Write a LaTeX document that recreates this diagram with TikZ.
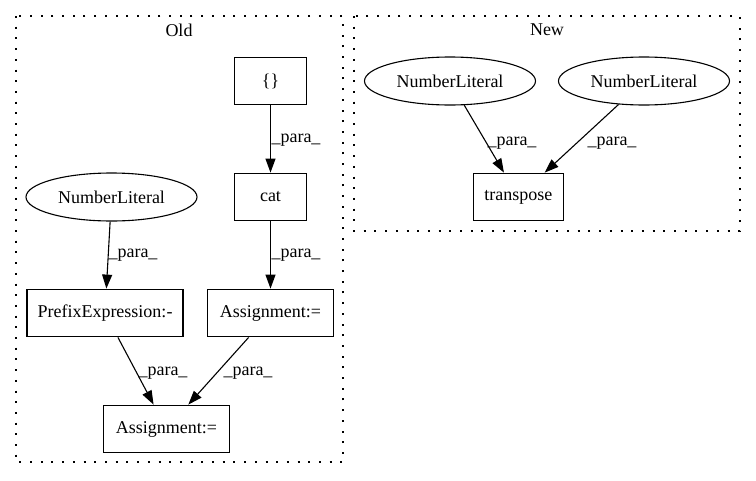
\documentclass[tikz,border=0pt]{standalone}
\usepackage{fontspec}
\setmainfont{Liberation Serif}
\usetikzlibrary{arrows.meta,shapes.geometric}
\begin{document}
\begin{tikzpicture}[x=1pt,y=-1pt,
  every node/.style={font=\fontsize{18}{21}\selectfont},
  box/.style={draw,line width=1.1pt,rectangle,inner sep=0pt,minimum height=47.7pt},
  oval/.style={draw,line width=1.1pt,ellipse,inner sep=0pt,minimum width=171pt,minimum height=48pt},
  cluster/.style={draw,line width=1.1pt,dash pattern=on 2pt off 8.7pt},
  edge/.style={line width=1.1pt,-{Triangle[length=14pt,width=10pt]}},
  lbl/.style={inner sep=0pt}]
\useasboundingbox (0,0) rectangle (756,480);
% clusters
\draw[cluster] (16,16) rectangle (343,462);
\draw[cluster] (354,16) rectangle (740,231);
\node (told) at (179,30) {Old};
\node (tnew) at (547,30) {New};
% Old nodes
\node[box,minimum width=72.4pt] (br) at (270.5,81) {\{\}};
\node[box,minimum width=72.4pt] (cat) at (270.5,197) {cat};
\node[oval] (nl1) at (111.5,197) {NumberLiteral};
\node[box,minimum width=156pt] (pre) at (105,313) {PrefixExpression:-};
\node[box,minimum width=125.6pt] (as1) at (270.5,313) {Assignment:=};
\node[box,minimum width=125.6pt] (as2) at (166.5,429) {Assignment:=};
% New nodes
\node[oval] (nl2) at (450,81) {NumberLiteral};
\node[oval] (nl3) at (644,81) {NumberLiteral};
\node[box,minimum width=90pt] (tr) at (518.3,197) {transpose};
% edges
\draw[edge] (br) -- (cat);
\draw[edge] (cat) -- (as1);
\draw[edge] (nl1) -- (pre);
\draw[edge] (pre) -- (as2);
\draw[edge] (as1) -- (as2);
\draw[edge] (nl2) -- (tr);
\draw[edge] (nl3) -- (tr);
% labels
\node[lbl] (l1) at (296,140) {\_para\_};
\node[lbl] (l2) at (296,255) {\_para\_};
\node[lbl] (l3) at (133,255) {\_para\_};
\node[lbl] (l4) at (163,373) {\_para\_};
\node[lbl] (l5) at (248,373) {\_para\_};
\node[lbl] (l6) at (512,143) {\_para\_};
\node[lbl] (l7) at (612,143) {\_para\_};
\end{tikzpicture}
\end{document}
